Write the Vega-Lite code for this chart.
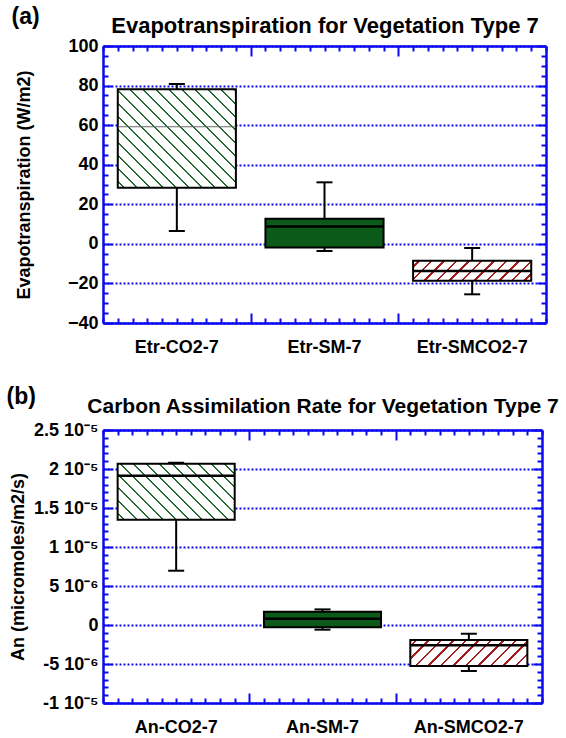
{
  "$schema": "https://vega.github.io/schema/vega-lite/v6.json",
  "background": "white",
  "padding": {"left": 6, "top": 6, "right": 5, "bottom": 5},
  "datasets": {
    "a": [
      {"var": "Etr-CO2-7", "lo": 6.5, "q1": 28.4, "med": 59.2, "q3": 78.1, "hi": 80.8},
      {"var": "Etr-SM-7", "lo": -3.6, "q1": -1.9, "med": 8.8, "q3": 12.7, "hi": 31.1},
      {"var": "Etr-SMCO2-7", "lo": -25.5, "q1": -18.7, "med": -13.7, "q3": -8.5, "hi": -2.1}
    ],
    "b": [
      {"var": "An-CO2-7", "lo": 6.96e-6, "q1": 1.35e-5, "med": 1.914e-5, "q3": 2.067e-5, "hi": 2.08e-5},
      {"var": "An-SM-7", "lo": -6e-7, "q1": -3e-7, "med": 8e-7, "q3": 1.7e-6, "hi": 2.0e-6},
      {"var": "An-SMCO2-7", "lo": -5.9e-6, "q1": -5.26e-6, "med": -2.6e-6, "q3": -1.92e-6, "hi": -1.12e-6}
    ]
  },
  "spacing": 30,
  "vconcat": [
    {
      "data": {"name": "a"},
      "title": {"text": "(a)", "anchor": "start", "frame": "bounds", "fontSize": 23, "fontWeight": "bold", "offset": -15, "dx": -4},
      "width": 443,
      "height": 277,
      "resolve": {"scale": {"x": "independent"}, "axis": {"x": "independent", "y": "independent"}},
      "layer": [
        {
          "mark": {"type": "rule", "opacity": 0},
          "encoding": {
            "x": {"datum": 0, "type": "quantitative", "scale": {"domain": [0, 3], "nice": false, "zero": false},
              "axis": {"orient": "bottom", "values": [0,0.1,0.2,0.3,0.4,0.5,0.6,0.7,0.8,0.9,1,1.1,1.2,1.3,1.4,1.5,1.6,1.7,1.8,1.9,2,2.1,2.2,2.3,2.4,2.5,2.6,2.7,2.8,2.9,3],
                "labels": false, "title": null, "grid": false, "domainColor": "#0a0af0", "domainWidth": 2.5, "tickColor": "#0a0af0", "tickWidth": 2,
                "tickSize": {"condition": {"test": "abs(datum.value-1)<0.01 || abs(datum.value-2)<0.01", "value": -10}, "value": -5}}},
            "y": {"datum": 0, "type": "quantitative", "scale": {"domain": [-40, 100], "nice": false, "zero": false},
              "axis": {"orient": "left", "values": [-40,-35,-30,-25,-20,-15,-10,-5,0,5,10,15,20,25,30,35,40,45,50,55,60,65,70,75,80,85,90,95,100],
                "labels": false, "title": null, "grid": false, "domainColor": "#0a0af0", "domainWidth": 2.5, "tickColor": "#0a0af0", "tickWidth": 2,
                "tickSize": {"condition": {"test": "datum.value % 20 == 0", "value": -9}, "value": -5}}}
          }
        },
        {
          "mark": {"type": "rule", "opacity": 0},
          "encoding": {
            "x": {"datum": 0, "type": "quantitative", "scale": {"domain": [0, 3], "nice": false, "zero": false},
              "axis": {"orient": "top", "values": [0,0.1,0.2,0.3,0.4,0.5,0.6,0.7,0.8,0.9,1,1.1,1.2,1.3,1.4,1.5,1.6,1.7,1.8,1.9,2,2.1,2.2,2.3,2.4,2.5,2.6,2.7,2.8,2.9,3],
                "labels": false, "grid": false, "domainColor": "#0a0af0", "domainWidth": 2.5, "tickColor": "#0a0af0", "tickWidth": 2,
                "tickSize": {"condition": {"test": "abs(datum.value-1)<0.01 || abs(datum.value-2)<0.01", "value": -10}, "value": -5},
                "title": "Evapotranspiration for Vegetation Type 7", "titleFontSize": 22, "titlePadding": 8}},
            "y": {"datum": 0, "type": "quantitative", "scale": {"domain": [-40, 100], "nice": false, "zero": false},
              "axis": {"orient": "right", "values": [-40,-35,-30,-25,-20,-15,-10,-5,0,5,10,15,20,25,30,35,40,45,50,55,60,65,70,75,80,85,90,95,100],
                "labels": false, "title": null, "grid": false, "domainColor": "#0a0af0", "domainWidth": 2.5, "tickColor": "#0a0af0", "tickWidth": 2,
                "tickSize": {"condition": {"test": "datum.value % 20 == 0", "value": -9}, "value": -5}}}
          }
        },
        {
          "mark": {"type": "rule", "color": "black", "strokeWidth": 2},
          "encoding": {
            "x": {"field": "var", "type": "nominal",
              "scale": {"domain": ["Etr-CO2-7", "Etr-SM-7", "Etr-SMCO2-7"], "paddingInner": 0, "paddingOuter": 0},
              "axis": {"orient": "bottom", "title": null, "ticks": false, "domain": false, "grid": false, "labelAngle": 0, "labelFontSize": 18, "labelPadding": 15}},
            "y": {"field": "lo", "type": "quantitative", "scale": {"domain": [-40, 100], "nice": false, "zero": false},
              "axis": {"orient": "left", "values": [-40,-20,0,20,40,60,80,100], "ticks": false, "domain": false, "grid": true,
                "gridColor": "#0a0af0", "gridDash": [2, 2], "gridWidth": 2, "labelFontSize": 18, "labelPadding": 5,
                "title": "Evapotranspiration (W/m2)", "titleFontSize": 18, "titlePadding": 34}},
            "y2": {"field": "hi"}
          }
        },
        {
          "mark": {"type": "tick", "color": "black", "thickness": 2, "size": 16, "opacity": 1},
          "encoding": {
            "x": {"field": "var", "type": "nominal", "scale": {"domain": ["Etr-CO2-7", "Etr-SM-7", "Etr-SMCO2-7"], "paddingInner": 0, "paddingOuter": 0}, "axis": null},
            "y": {"field": "lo", "type": "quantitative", "axis": null}
          }
        },
        {
          "mark": {"type": "tick", "color": "black", "thickness": 2, "size": 16, "opacity": 1},
          "encoding": {
            "x": {"field": "var", "type": "nominal", "scale": {"domain": ["Etr-CO2-7", "Etr-SM-7", "Etr-SMCO2-7"], "paddingInner": 0, "paddingOuter": 0}, "axis": null},
            "y": {"field": "hi", "type": "quantitative", "axis": null}
          }
        },
        {
          "transform": [{"filter": "datum.var === 'Etr-CO2-7'"}],
          "mark": {"type": "bar", "width": {"band": 0.8}, "stroke": "black", "strokeWidth": 2, "opacity": 1,
            "fill": {"gradient": "linear", "x1": 0, "y1": 1, "x2": 1.0824, "y2": 0.0991, "stops": [
              {"offset": 0, "color": "white"},
              {"offset": 0.0245, "color": "white"}, {"offset": 0.0245, "color": "#236b30"}, {"offset": 0.0355, "color": "#236b30"}, {"offset": 0.0355, "color": "white"},
              {"offset": 0.0846, "color": "white"}, {"offset": 0.0846, "color": "#236b30"}, {"offset": 0.0956, "color": "#236b30"}, {"offset": 0.0956, "color": "white"},
              {"offset": 0.1447, "color": "white"}, {"offset": 0.1447, "color": "#236b30"}, {"offset": 0.1557, "color": "#236b30"}, {"offset": 0.1557, "color": "white"},
              {"offset": 0.2048, "color": "white"}, {"offset": 0.2048, "color": "#236b30"}, {"offset": 0.2158, "color": "#236b30"}, {"offset": 0.2158, "color": "white"},
              {"offset": 0.2649, "color": "white"}, {"offset": 0.2649, "color": "#236b30"}, {"offset": 0.2759, "color": "#236b30"}, {"offset": 0.2759, "color": "white"},
              {"offset": 0.325, "color": "white"}, {"offset": 0.325, "color": "#236b30"}, {"offset": 0.336, "color": "#236b30"}, {"offset": 0.336, "color": "white"},
              {"offset": 0.3851, "color": "white"}, {"offset": 0.3851, "color": "#236b30"}, {"offset": 0.3961, "color": "#236b30"}, {"offset": 0.3961, "color": "white"},
              {"offset": 0.4452, "color": "white"}, {"offset": 0.4452, "color": "#236b30"}, {"offset": 0.4562, "color": "#236b30"}, {"offset": 0.4562, "color": "white"},
              {"offset": 0.5053, "color": "white"}, {"offset": 0.5053, "color": "#236b30"}, {"offset": 0.5163, "color": "#236b30"}, {"offset": 0.5163, "color": "white"},
              {"offset": 0.5654, "color": "white"}, {"offset": 0.5654, "color": "#236b30"}, {"offset": 0.5764, "color": "#236b30"}, {"offset": 0.5764, "color": "white"},
              {"offset": 0.6255, "color": "white"}, {"offset": 0.6255, "color": "#236b30"}, {"offset": 0.6365, "color": "#236b30"}, {"offset": 0.6365, "color": "white"},
              {"offset": 0.6856, "color": "white"}, {"offset": 0.6856, "color": "#236b30"}, {"offset": 0.6966, "color": "#236b30"}, {"offset": 0.6966, "color": "white"},
              {"offset": 0.7457, "color": "white"}, {"offset": 0.7457, "color": "#236b30"}, {"offset": 0.7567, "color": "#236b30"}, {"offset": 0.7567, "color": "white"},
              {"offset": 0.8058, "color": "white"}, {"offset": 0.8058, "color": "#236b30"}, {"offset": 0.8168, "color": "#236b30"}, {"offset": 0.8168, "color": "white"},
              {"offset": 0.8659, "color": "white"}, {"offset": 0.8659, "color": "#236b30"}, {"offset": 0.8769, "color": "#236b30"}, {"offset": 0.8769, "color": "white"},
              {"offset": 0.926, "color": "white"}, {"offset": 0.926, "color": "#236b30"}, {"offset": 0.937, "color": "#236b30"}, {"offset": 0.937, "color": "white"},
              {"offset": 0.9861, "color": "white"}, {"offset": 0.9861, "color": "#236b30"}, {"offset": 0.9971, "color": "#236b30"}, {"offset": 0.9971, "color": "white"},
              {"offset": 1, "color": "white"}
            ]}},
          "encoding": {
            "x": {"field": "var", "type": "nominal", "scale": {"domain": ["Etr-CO2-7", "Etr-SM-7", "Etr-SMCO2-7"], "paddingInner": 0, "paddingOuter": 0}, "axis": null},
            "y": {"field": "q1", "type": "quantitative", "axis": null}, "y2": {"field": "q3"}
          }
        },
        {
          "transform": [{"filter": "datum.var === 'Etr-SM-7'"}],
          "mark": {"type": "bar", "width": {"band": 0.8}, "stroke": "black", "strokeWidth": 2, "opacity": 1, "fill": "#0b5a19"},
          "encoding": {
            "x": {"field": "var", "type": "nominal", "scale": {"domain": ["Etr-CO2-7", "Etr-SM-7", "Etr-SMCO2-7"], "paddingInner": 0, "paddingOuter": 0}, "axis": null},
            "y": {"field": "q1", "type": "quantitative", "axis": null}, "y2": {"field": "q3"}
          }
        },
        {
          "transform": [{"filter": "datum.var === 'Etr-SMCO2-7'"}],
          "mark": {"type": "bar", "width": {"band": 0.8}, "stroke": "black", "strokeWidth": 2, "opacity": 1,
            "fill": {"gradient": "linear", "x1": 0, "y1": 0, "x2": 1.1378, "y2": 0.1944, "stops": [
              {"offset": 0, "color": "white"},
              {"offset": 0.0358, "color": "white"}, {"offset": 0.0358, "color": "#a51d1d"}, {"offset": 0.0546, "color": "#a51d1d"}, {"offset": 0.0546, "color": "white"},
              {"offset": 0.1262, "color": "white"}, {"offset": 0.1262, "color": "#a51d1d"}, {"offset": 0.145, "color": "#a51d1d"}, {"offset": 0.145, "color": "white"},
              {"offset": 0.2166, "color": "white"}, {"offset": 0.2166, "color": "#a51d1d"}, {"offset": 0.2354, "color": "#a51d1d"}, {"offset": 0.2354, "color": "white"},
              {"offset": 0.307, "color": "white"}, {"offset": 0.307, "color": "#a51d1d"}, {"offset": 0.3258, "color": "#a51d1d"}, {"offset": 0.3258, "color": "white"},
              {"offset": 0.3974, "color": "white"}, {"offset": 0.3974, "color": "#a51d1d"}, {"offset": 0.4162, "color": "#a51d1d"}, {"offset": 0.4162, "color": "white"},
              {"offset": 0.4878, "color": "white"}, {"offset": 0.4878, "color": "#a51d1d"}, {"offset": 0.5066, "color": "#a51d1d"}, {"offset": 0.5066, "color": "white"},
              {"offset": 0.5782, "color": "white"}, {"offset": 0.5782, "color": "#a51d1d"}, {"offset": 0.597, "color": "#a51d1d"}, {"offset": 0.597, "color": "white"},
              {"offset": 0.6686, "color": "white"}, {"offset": 0.6686, "color": "#a51d1d"}, {"offset": 0.6874, "color": "#a51d1d"}, {"offset": 0.6874, "color": "white"},
              {"offset": 0.759, "color": "white"}, {"offset": 0.759, "color": "#a51d1d"}, {"offset": 0.7778, "color": "#a51d1d"}, {"offset": 0.7778, "color": "white"},
              {"offset": 0.8494, "color": "white"}, {"offset": 0.8494, "color": "#a51d1d"}, {"offset": 0.8682, "color": "#a51d1d"}, {"offset": 0.8682, "color": "white"},
              {"offset": 0.9398, "color": "white"}, {"offset": 0.9398, "color": "#a51d1d"}, {"offset": 0.9586, "color": "#a51d1d"}, {"offset": 0.9586, "color": "white"},
              {"offset": 1, "color": "white"}
            ]}},
          "encoding": {
            "x": {"field": "var", "type": "nominal", "scale": {"domain": ["Etr-CO2-7", "Etr-SM-7", "Etr-SMCO2-7"], "paddingInner": 0, "paddingOuter": 0}, "axis": null},
            "y": {"field": "q1", "type": "quantitative", "axis": null}, "y2": {"field": "q3"}
          }
        },
        {
          "transform": [{"filter": "datum.var !== 'Etr-CO2-7'"}],
          "mark": {"type": "tick", "color": "black", "thickness": 2.5, "size": 118, "opacity": 1},
          "encoding": {
            "x": {"field": "var", "type": "nominal", "scale": {"domain": ["Etr-CO2-7", "Etr-SM-7", "Etr-SMCO2-7"], "paddingInner": 0, "paddingOuter": 0}, "axis": null},
            "y": {"field": "med", "type": "quantitative", "axis": null}
          }
        },
        {
          "transform": [{"filter": "datum.var === 'Etr-CO2-7'"}],
          "mark": {"type": "tick", "color": "#666666", "thickness": 1.2, "size": 118, "opacity": 1},
          "encoding": {
            "x": {"field": "var", "type": "nominal", "scale": {"domain": ["Etr-CO2-7", "Etr-SM-7", "Etr-SMCO2-7"], "paddingInner": 0, "paddingOuter": 0}, "axis": null},
            "y": {"field": "med", "type": "quantitative", "axis": null}
          }
        }
      ]
    },
    {
      "data": {"name": "b"},
      "title": {"text": "(b)", "anchor": "start", "frame": "bounds", "fontSize": 23, "fontWeight": "bold", "offset": -14, "dx": -3},
      "width": 439,
      "height": 273,
      "resolve": {"scale": {"x": "independent"}, "axis": {"x": "independent", "y": "independent"}},
      "layer": [
        {
          "mark": {"type": "rule", "opacity": 0},
          "encoding": {
            "x": {"datum": 0, "type": "quantitative", "scale": {"domain": [0, 3], "nice": false, "zero": false},
              "axis": {"orient": "bottom", "values": [0,0.1,0.2,0.3,0.4,0.5,0.6,0.7,0.8,0.9,1,1.1,1.2,1.3,1.4,1.5,1.6,1.7,1.8,1.9,2,2.1,2.2,2.3,2.4,2.5,2.6,2.7,2.8,2.9,3],
                "labels": false, "title": null, "grid": false, "domainColor": "#0a0af0", "domainWidth": 2.5, "tickColor": "#0a0af0", "tickWidth": 2,
                "tickSize": {"condition": {"test": "abs(datum.value-1)<0.01 || abs(datum.value-2)<0.01", "value": -10}, "value": -5}}},
            "y": {"datum": 0, "type": "quantitative", "scale": {"domain": [-1e-5, 2.5e-5], "nice": false, "zero": false},
              "axis": {"orient": "left", "values": [-1e-5,-9e-6,-8e-6,-7e-6,-6e-6,-5e-6,-4e-6,-3e-6,-2e-6,-1e-6,0,1e-6,2e-6,3e-6,4e-6,5e-6,6e-6,7e-6,8e-6,9e-6,1e-5,1.1e-5,1.2e-5,1.3e-5,1.4e-5,1.5e-5,1.6e-5,1.7e-5,1.8e-5,1.9e-5,2e-5,2.1e-5,2.2e-5,2.3e-5,2.4e-5,2.5e-5],
                "labels": false, "title": null, "grid": false, "domainColor": "#0a0af0", "domainWidth": 2.5, "tickColor": "#0a0af0", "tickWidth": 2,
                "tickSize": {"condition": {"test": "abs(round(datum.value*1e6)) % 5 == 0", "value": -9}, "value": -5}}}
          }
        },
        {
          "mark": {"type": "rule", "opacity": 0},
          "encoding": {
            "x": {"datum": 0, "type": "quantitative", "scale": {"domain": [0, 3], "nice": false, "zero": false},
              "axis": {"orient": "top", "values": [0,0.1,0.2,0.3,0.4,0.5,0.6,0.7,0.8,0.9,1,1.1,1.2,1.3,1.4,1.5,1.6,1.7,1.8,1.9,2,2.1,2.2,2.3,2.4,2.5,2.6,2.7,2.8,2.9,3],
                "labels": false, "grid": false, "domainColor": "#0a0af0", "domainWidth": 2.5, "tickColor": "#0a0af0", "tickWidth": 2,
                "tickSize": {"condition": {"test": "abs(datum.value-1)<0.01 || abs(datum.value-2)<0.01", "value": -10}, "value": -5},
                "title": "Carbon Assimilation Rate for Vegetation Type 7", "titleFontSize": 21, "titlePadding": 13}},
            "y": {"datum": 0, "type": "quantitative", "scale": {"domain": [-1e-5, 2.5e-5], "nice": false, "zero": false},
              "axis": {"orient": "right", "values": [-1e-5,-9e-6,-8e-6,-7e-6,-6e-6,-5e-6,-4e-6,-3e-6,-2e-6,-1e-6,0,1e-6,2e-6,3e-6,4e-6,5e-6,6e-6,7e-6,8e-6,9e-6,1e-5,1.1e-5,1.2e-5,1.3e-5,1.4e-5,1.5e-5,1.6e-5,1.7e-5,1.8e-5,1.9e-5,2e-5,2.1e-5,2.2e-5,2.3e-5,2.4e-5,2.5e-5],
                "labels": false, "title": null, "grid": false, "domainColor": "#0a0af0", "domainWidth": 2.5, "tickColor": "#0a0af0", "tickWidth": 2,
                "tickSize": {"condition": {"test": "abs(round(datum.value*1e6)) % 5 == 0", "value": -9}, "value": -5}}}
          }
        },
        {
          "mark": {"type": "rule", "color": "black", "strokeWidth": 2},
          "encoding": {
            "x": {"field": "var", "type": "nominal",
              "scale": {"domain": ["An-CO2-7", "An-SM-7", "An-SMCO2-7"], "paddingInner": 0, "paddingOuter": 0},
              "axis": {"orient": "bottom", "title": null, "ticks": false, "domain": false, "grid": false, "labelAngle": 0, "labelFontSize": 18, "labelPadding": 15}},
            "y": {"field": "lo", "type": "quantitative", "scale": {"domain": [-1e-5, 2.5e-5], "nice": false, "zero": false},
              "axis": {"orient": "left", "values": [-1e-5,-5e-6,0,5e-6,1e-5,1.5e-5,2e-5,2.5e-5], "ticks": false, "domain": false, "grid": true,
                "gridColor": "#0a0af0", "gridDash": [2, 2], "gridWidth": 2, "labelFontSize": 18, "labelPadding": 5,
                "labelExpr": "{'25':'2.5 10⁻⁵','20':'2 10⁻⁵','15':'1.5 10⁻⁵','10':'1 10⁻⁵','5':'5 10⁻⁶','0':'0','-5':'-5 10⁻⁶','-10':'-1 10⁻⁵'}['' + round(datum.value*1e6)]",
                "title": "An  (micromoles/m2/s)", "titleFontSize": 18, "titlePadding": 6}},
            "y2": {"field": "hi"}
          }
        },
        {
          "mark": {"type": "tick", "color": "black", "thickness": 2, "size": 16, "opacity": 1},
          "encoding": {
            "x": {"field": "var", "type": "nominal", "scale": {"domain": ["An-CO2-7", "An-SM-7", "An-SMCO2-7"], "paddingInner": 0, "paddingOuter": 0}, "axis": null},
            "y": {"field": "lo", "type": "quantitative", "axis": null}
          }
        },
        {
          "mark": {"type": "tick", "color": "black", "thickness": 2, "size": 16, "opacity": 1},
          "encoding": {
            "x": {"field": "var", "type": "nominal", "scale": {"domain": ["An-CO2-7", "An-SM-7", "An-SMCO2-7"], "paddingInner": 0, "paddingOuter": 0}, "axis": null},
            "y": {"field": "hi", "type": "quantitative", "axis": null}
          }
        },
        {
          "transform": [{"filter": "datum.var === 'An-CO2-7'"}],
          "mark": {"type": "bar", "width": {"band": 0.8}, "stroke": "black", "strokeWidth": 2, "opacity": 1,
            "fill": {"gradient": "linear", "x1": 0, "y1": 1, "x2": 1.2034, "y2": 0.4254, "stops": [
              {"offset": 0, "color": "white"},
              {"offset": 0.0306, "color": "white"}, {"offset": 0.0306, "color": "#236b30"}, {"offset": 0.0445, "color": "#236b30"}, {"offset": 0.0445, "color": "white"},
              {"offset": 0.1057, "color": "white"}, {"offset": 0.1057, "color": "#236b30"}, {"offset": 0.1196, "color": "#236b30"}, {"offset": 0.1196, "color": "white"},
              {"offset": 0.1808, "color": "white"}, {"offset": 0.1808, "color": "#236b30"}, {"offset": 0.1947, "color": "#236b30"}, {"offset": 0.1947, "color": "white"},
              {"offset": 0.2559, "color": "white"}, {"offset": 0.2559, "color": "#236b30"}, {"offset": 0.2698, "color": "#236b30"}, {"offset": 0.2698, "color": "white"},
              {"offset": 0.331, "color": "white"}, {"offset": 0.331, "color": "#236b30"}, {"offset": 0.3449, "color": "#236b30"}, {"offset": 0.3449, "color": "white"},
              {"offset": 0.4061, "color": "white"}, {"offset": 0.4061, "color": "#236b30"}, {"offset": 0.42, "color": "#236b30"}, {"offset": 0.42, "color": "white"},
              {"offset": 0.4812, "color": "white"}, {"offset": 0.4812, "color": "#236b30"}, {"offset": 0.4951, "color": "#236b30"}, {"offset": 0.4951, "color": "white"},
              {"offset": 0.5563, "color": "white"}, {"offset": 0.5563, "color": "#236b30"}, {"offset": 0.5702, "color": "#236b30"}, {"offset": 0.5702, "color": "white"},
              {"offset": 0.6314, "color": "white"}, {"offset": 0.6314, "color": "#236b30"}, {"offset": 0.6453, "color": "#236b30"}, {"offset": 0.6453, "color": "white"},
              {"offset": 0.7065, "color": "white"}, {"offset": 0.7065, "color": "#236b30"}, {"offset": 0.7204, "color": "#236b30"}, {"offset": 0.7204, "color": "white"},
              {"offset": 0.7816, "color": "white"}, {"offset": 0.7816, "color": "#236b30"}, {"offset": 0.7955, "color": "#236b30"}, {"offset": 0.7955, "color": "white"},
              {"offset": 0.8567, "color": "white"}, {"offset": 0.8567, "color": "#236b30"}, {"offset": 0.8706, "color": "#236b30"}, {"offset": 0.8706, "color": "white"},
              {"offset": 0.9318, "color": "white"}, {"offset": 0.9318, "color": "#236b30"}, {"offset": 0.9457, "color": "#236b30"}, {"offset": 0.9457, "color": "white"},
              {"offset": 1, "color": "white"}
            ]}},
          "encoding": {
            "x": {"field": "var", "type": "nominal", "scale": {"domain": ["An-CO2-7", "An-SM-7", "An-SMCO2-7"], "paddingInner": 0, "paddingOuter": 0}, "axis": null},
            "y": {"field": "q1", "type": "quantitative", "axis": null}, "y2": {"field": "q3"}
          }
        },
        {
          "transform": [{"filter": "datum.var === 'An-SM-7'"}],
          "mark": {"type": "bar", "width": {"band": 0.8}, "stroke": "black", "strokeWidth": 2, "opacity": 1, "fill": "#0b5a19"},
          "encoding": {
            "x": {"field": "var", "type": "nominal", "scale": {"domain": ["An-CO2-7", "An-SM-7", "An-SMCO2-7"], "paddingInner": 0, "paddingOuter": 0}, "axis": null},
            "y": {"field": "q1", "type": "quantitative", "axis": null}, "y2": {"field": "q3"}
          }
        },
        {
          "transform": [{"filter": "datum.var === 'An-SMCO2-7'"}],
          "mark": {"type": "bar", "width": {"band": 0.8}, "stroke": "black", "strokeWidth": 2, "opacity": 1,
            "fill": {"gradient": "linear", "x1": 0, "y1": 0, "x2": 1.1647, "y2": 0.2592, "stops": [
              {"offset": 0, "color": "white"},
              {"offset": 0.0346, "color": "white"}, {"offset": 0.0346, "color": "#a51d1d"}, {"offset": 0.0528, "color": "#a51d1d"}, {"offset": 0.0528, "color": "white"},
              {"offset": 0.122, "color": "white"}, {"offset": 0.122, "color": "#a51d1d"}, {"offset": 0.1402, "color": "#a51d1d"}, {"offset": 0.1402, "color": "white"},
              {"offset": 0.2094, "color": "white"}, {"offset": 0.2094, "color": "#a51d1d"}, {"offset": 0.2276, "color": "#a51d1d"}, {"offset": 0.2276, "color": "white"},
              {"offset": 0.2968, "color": "white"}, {"offset": 0.2968, "color": "#a51d1d"}, {"offset": 0.315, "color": "#a51d1d"}, {"offset": 0.315, "color": "white"},
              {"offset": 0.3842, "color": "white"}, {"offset": 0.3842, "color": "#a51d1d"}, {"offset": 0.4024, "color": "#a51d1d"}, {"offset": 0.4024, "color": "white"},
              {"offset": 0.4716, "color": "white"}, {"offset": 0.4716, "color": "#a51d1d"}, {"offset": 0.4898, "color": "#a51d1d"}, {"offset": 0.4898, "color": "white"},
              {"offset": 0.559, "color": "white"}, {"offset": 0.559, "color": "#a51d1d"}, {"offset": 0.5772, "color": "#a51d1d"}, {"offset": 0.5772, "color": "white"},
              {"offset": 0.6464, "color": "white"}, {"offset": 0.6464, "color": "#a51d1d"}, {"offset": 0.6646, "color": "#a51d1d"}, {"offset": 0.6646, "color": "white"},
              {"offset": 0.7338, "color": "white"}, {"offset": 0.7338, "color": "#a51d1d"}, {"offset": 0.752, "color": "#a51d1d"}, {"offset": 0.752, "color": "white"},
              {"offset": 0.8212, "color": "white"}, {"offset": 0.8212, "color": "#a51d1d"}, {"offset": 0.8394, "color": "#a51d1d"}, {"offset": 0.8394, "color": "white"},
              {"offset": 0.9086, "color": "white"}, {"offset": 0.9086, "color": "#a51d1d"}, {"offset": 0.9268, "color": "#a51d1d"}, {"offset": 0.9268, "color": "white"},
              {"offset": 1, "color": "white"}
            ]}},
          "encoding": {
            "x": {"field": "var", "type": "nominal", "scale": {"domain": ["An-CO2-7", "An-SM-7", "An-SMCO2-7"], "paddingInner": 0, "paddingOuter": 0}, "axis": null},
            "y": {"field": "q1", "type": "quantitative", "axis": null}, "y2": {"field": "q3"}
          }
        },
        {
          "mark": {"type": "tick", "color": "black", "thickness": 2.5, "size": 117, "opacity": 1},
          "encoding": {
            "x": {"field": "var", "type": "nominal", "scale": {"domain": ["An-CO2-7", "An-SM-7", "An-SMCO2-7"], "paddingInner": 0, "paddingOuter": 0}, "axis": null},
            "y": {"field": "med", "type": "quantitative", "axis": null}
          }
        }
      ]
    }
  ],
  "config": {
    "font": "Liberation Sans",
    "view": {"stroke": null},
    "axis": {"labelFont": "Liberation Sans", "titleFont": "Liberation Sans", "labelFontWeight": "bold", "titleFontWeight": "bold", "labelColor": "black", "titleColor": "black"},
    "title": {"font": "Liberation Sans", "color": "black"}
  }
}
